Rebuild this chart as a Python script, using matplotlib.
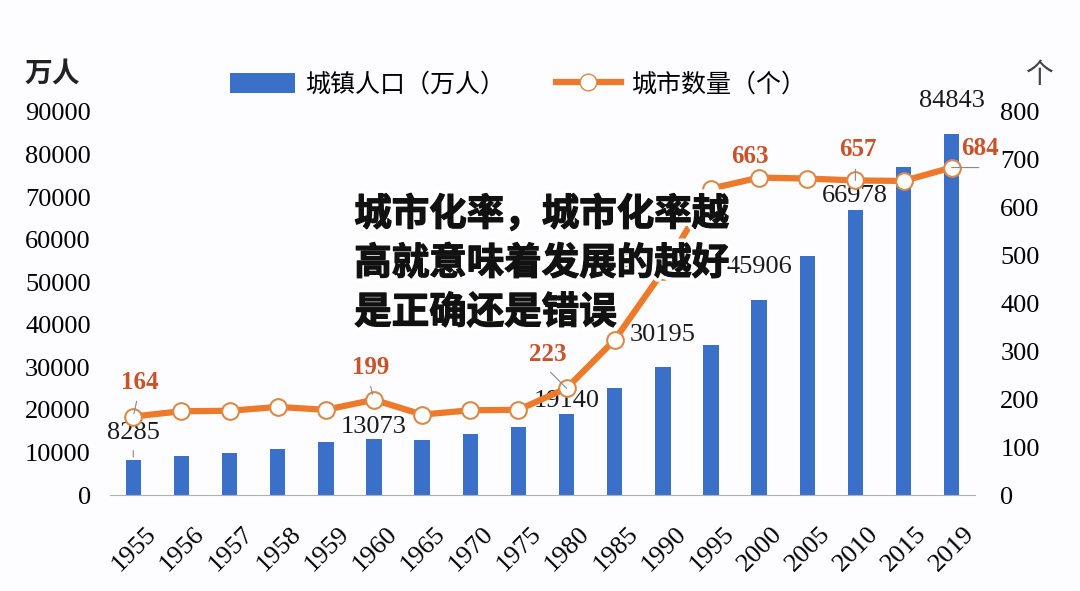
import matplotlib
matplotlib.use('Agg')

import matplotlib.pyplot as plt
import matplotlib.patheffects as pe
import matplotlib.transforms as mtransforms
from matplotlib.lines import Line2D
from matplotlib.patches import Patch

plt.rcParams['font.family'] = ['Liberation Serif', 'Noto Sans CJK SC']

# 数据
years = ['1955', '1956', '1957', '1958', '1959', '1960', '1965', '1970', '1975',
         '1980', '1985', '1990', '1995', '2000', '2005', '2010', '2015', '2019']
urban_pop = [8285, 9185, 9949, 10721, 12371, 13073, 13045, 14424, 16030,
             19140, 25094, 30195, 35174, 45906, 56212, 66978, 77116, 84843]
city_count = [164, 175, 176, 184, 178, 199, 168, 177, 178,
              223, 324, 467, 640, 663, 661, 657, 656, 684]

pop_labels = {0: '8285', 5: '13073', 9: '19140', 11: '30195', 13: '45906', 15: '66978', 17: '84843'}
city_labels = {0: '164', 5: '199', 9: '223', 11: '467', 13: '663', 15: '657', 17: '684'}

# 标签偏移（像素，相对柱顶 / 数据点）
pop_offset = {0: (0, 27), 5: (0, 12), 9: (0, 13), 11: (0, 32), 13: (0, 33), 15: (0, 14), 17: (0, 33)}
city_offset = {0: (7, 34), 5: (-3, 32), 9: (-19, 34), 11: (-47, 9), 13: (-9, 21), 15: (3, 31), 17: (28, 19)}

BLUE = '#3b70c9'
ORANGE = '#ec7a2a'
LABEL_RED = '#c9522b'
CJK = 'Noto Sans CJK SC'
PX = 0.72  # 像素 -> 磅

fig = plt.figure(figsize=(10.8, 5.91), dpi=100)
fig.patch.set_facecolor('#fdfcfe')
ax = fig.add_axes([0.102, 0.1624, 0.801, 0.6481])
ax.set_facecolor('none')
x = list(range(len(years)))

ax.bar(x, urban_pop, width=0.32, color=BLUE, zorder=2)
ax.set_ylim(0, 90000)
ax.set_xlim(-0.48, 17.49)
ax.set_yticks(range(0, 90001, 10000))
ax.set_xticks(x)
ax.set_xticklabels(years, rotation=45, ha='right', rotation_mode='anchor', fontsize=19)
ax.tick_params(axis='both', length=0, labelsize=19)
ax.tick_params(axis='y', pad=14)
ax.tick_params(axis='x', pad=20)
shift = mtransforms.ScaledTranslation(12 / 100, 0, fig.dpi_scale_trans)
for lab in ax.get_xticklabels():
    lab.set_transform(lab.get_transform() + shift)
for s in ['top', 'left', 'right']:
    ax.spines[s].set_visible(False)
ax.spines['bottom'].set_color('#b0b0b0')

ax2 = ax.twinx()
ax2.set_ylim(0, 800)
ax2.set_yticks(range(0, 801, 100))
ax2.tick_params(axis='y', length=0, labelsize=19, pad=18)
for s in ['top', 'left', 'right', 'bottom']:
    ax2.spines[s].set_visible(False)
ax2.plot(x, city_count, color=ORANGE, lw=4.5, marker='o', ms=12,
         mfc='white', mec='#d98a4a', mew=1.5, zorder=3)

# 数据标签
for i, t in pop_labels.items():
    dx, dy = pop_offset[i]
    ax.annotate(t, (i, urban_pop[i]), xytext=(dx * PX, dy * PX), textcoords='offset points',
                ha='center', va='center', fontsize=19, color='#1a1a1a', zorder=5)
for i, t in city_labels.items():
    dx, dy = city_offset[i]
    ax2.annotate(t, (i, city_count[i]), xytext=(dx * PX, dy * PX), textcoords='offset points',
                 ha='center', va='center', fontsize=18, fontweight='bold', color=LABEL_RED, zorder=5)

# 引导线
lead = dict(arrowstyle='-', color='#8a8a8a', lw=0.8)
ax.annotate('', (0, urban_pop[0]), xytext=(0, 12 * PX), textcoords='offset points', arrowprops=lead)
ax2.annotate('', (0, city_count[0]), xytext=(4 * PX, 18 * PX), textcoords='offset points',
             arrowprops=dict(lead, shrinkB=2))
ax2.annotate('', (5, city_count[5]), xytext=(-4 * PX, 16 * PX), textcoords='offset points',
             arrowprops=dict(lead, shrinkB=4))
ax2.annotate('', (9, city_count[9]), xytext=(-18 * PX, 18 * PX), textcoords='offset points',
             arrowprops=dict(lead, shrinkB=0))
ax2.annotate('', (15, city_count[15]), xytext=(0, 14 * PX), textcoords='offset points',
             arrowprops=dict(lead, shrinkB=0))
ax2.annotate('', (17, city_count[17]), xytext=(30 * PX, 0), textcoords='offset points',
             arrowprops=dict(lead, shrinkB=0))

# 坐标轴单位
fig.text(0.023, 0.86, '万人', fontsize=20, family=CJK, fontweight='bold', color='#222222')
fig.text(0.949, 0.86, '个', fontsize=20, family=CJK, fontweight='light', color='#444444')

# 图例
handles = [Patch(facecolor=BLUE, edgecolor='none'),
           Line2D([0], [0], color=ORANGE, lw=4.5, marker='o', ms=12, mfc='white', mec='#d98a4a')]
fig.legend(handles, ['城镇人口（万人）', '城市数量（个）'], loc='center', bbox_to_anchor=(0.48, 0.857),
           ncol=2, frameon=False, prop={'family': CJK, 'size': 18}, handlelength=2.6,
           handleheight=0.9, columnspacing=2.0, handletextpad=0.45)

# 叠加标题文字（白色描边 + 细黑描边加粗）
overlay = ['城市化率，城市化率越', '高就意味着发展的越好', '是正确还是错误']
for k, line in enumerate(overlay):
    fig.text(0.328, 0.638 - k * 0.083, line, fontsize=27, family=CJK, fontweight='black',
             color='#111111', va='center', zorder=10,
             path_effects=[pe.Stroke(linewidth=6, foreground='white'),
                           pe.Stroke(linewidth=0.9, foreground='#111111'),
                           pe.Normal()])

plt.savefig('out.png', dpi=100, facecolor=fig.get_facecolor())
